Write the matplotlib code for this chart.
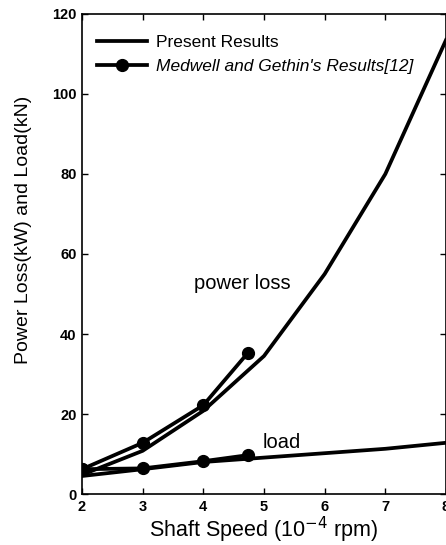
import matplotlib
matplotlib.use("Agg")
import matplotlib.pyplot as plt

plt.rcParams['font.family'] = ['Liberation Sans', 'DejaVu Sans']

speed = [2, 3, 4, 5, 6, 7, 8]
present_power = [4.8, 10.8, 20.8, 34.5, 55.0, 80.0, 113.5]
present_load = [4.5, 6.2, 8.0, 9.1, 10.2, 11.3, 12.8]

medwell_speed = [2, 3, 4, 4.73]
medwell_power = [6.2, 12.8, 22.2, 35.2]
medwell_load = [6.2, 6.4, 8.2, 9.7]

xticks = [2, 3, 4, 5, 6, 7, 8]
yticks = [0, 20, 40, 60, 80, 100, 120]

fig = plt.figure(figsize=(4.46, 5.45), dpi=100)
ax = fig.add_axes([82/446, 51/545, 364/446, 480/545])

lw = 2.7
ax.plot(speed, present_power, color='black', lw=lw, label='Present Results')
ax.plot(speed, present_load, color='black', lw=lw)
ax.plot(medwell_speed, medwell_power, color='black', lw=lw, marker='o', ms=8.5,
        label="Medwell and Gethin's Results[12]")
ax.plot(medwell_speed, medwell_load, color='black', lw=lw, marker='o', ms=8.5)

ax.set_xlim(2, 8)
ax.set_ylim(0, 120)
ax.set_xticks(xticks)
ax.set_yticks(yticks)
ax.tick_params(direction='in', top=True, right=True, length=4, width=1,
               labelsize=10.5, pad=4)
for lab in ax.get_xticklabels() + ax.get_yticklabels():
    lab.set_fontweight('bold')
for s in ax.spines.values():
    s.set_linewidth(1.2)

ax.set_xlabel('Shaft Speed (10$^{-4}$ rpm)', fontsize=15.5, labelpad=1)
ax.set_ylabel('Power Loss(kW) and Load(kN)', fontsize=14)
ax.yaxis.set_label_coords(-50/364, (494-230)/480)

ax.text(4.65, 52.5, 'power loss', fontsize=14.5, ha='center', va='center')
ax.text(5.3, 12.9, 'load', fontsize=14.5, ha='center', va='center')

leg = ax.legend(loc='upper left', frameon=False, fontsize=12.5,
                handlelength=2.9, bbox_to_anchor=(0.04, 0.956), borderpad=0,
                borderaxespad=0, labelspacing=0.5, handletextpad=0.5)
leg.get_texts()[1].set_fontstyle('italic')

fig.savefig('out.png', dpi=100)
